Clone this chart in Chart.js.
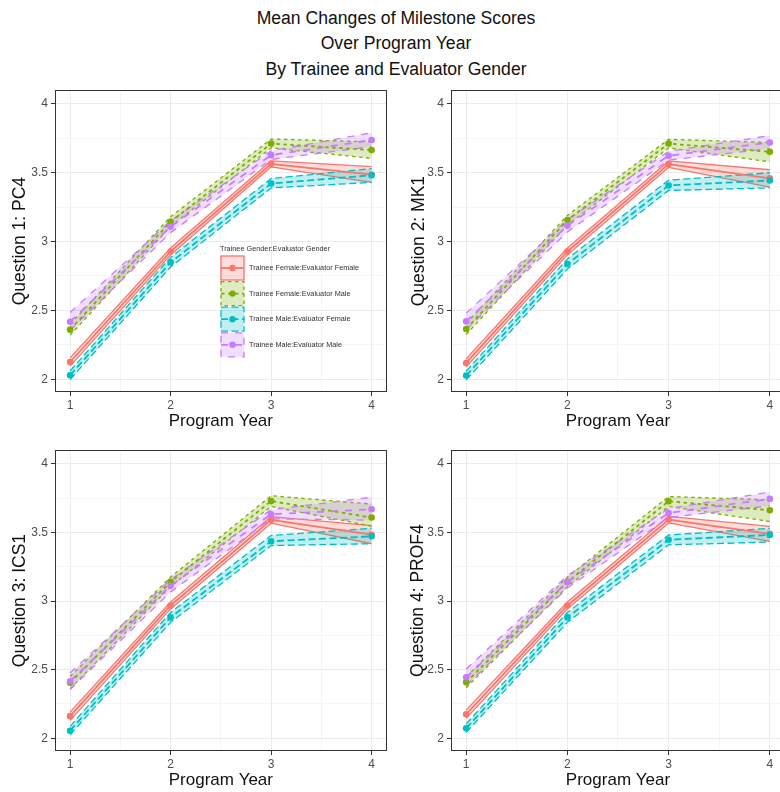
<!DOCTYPE html>
<html><head><meta charset="utf-8">
<script src="https://cdn.jsdelivr.net/npm/chart.js@4.4.1/dist/chart.umd.min.js"></script>
<style>
html,body{margin:0;padding:0;background:#fff;overflow:hidden;}
#page{position:relative;width:780px;height:792px;overflow:hidden;background:#fff;}
#title{position:absolute;left:0;top:5.5px;width:792px;text-align:center;font-family:"Liberation Sans",Arial,sans-serif;font-size:17.6px;line-height:25.5px;color:#111;}
canvas{position:absolute;}
</style></head><body>
<div id="page">
<div id="title">Mean Changes of Milestone Scores<br>Over Program Year<br>By Trainee and Evaluator Gender</div>
<canvas id="c1"></canvas><canvas id="c2"></canvas><canvas id="c3"></canvas><canvas id="c4"></canvas>
</div>
<script>
// ---------- DATA ----------
const years = [1, 2, 3, 4];
const xMajor = [1, 2, 3, 4];
const xMinor = [1.5, 2.5, 3.5];
const xTickLabels = ['1', '2', '3', '4'];
const yMajor = [2, 2.5, 3, 3.5, 4];
const yMinor = [2.25, 2.75, 3.25, 3.75];
const yTickLabels = ['2', '2.5', '3', '3.5', '4'];
const xAxisTitle = 'Program Year';
const panelTitles = ['Question 1: PC4', 'Question 2: MK1', 'Question 3: ICS1', 'Question 4: PROF4'];
const legendTitle = 'Trainee Gender:Evaluator Gender';
const groupNames = ['Trainee Female:Evaluator Female', 'Trainee Female:Evaluator Male',
                    'Trainee Male:Evaluator Female', 'Trainee Male:Evaluator Male'];

// order of rows: FF, FM, MF, MM
const q1Mean = [[2.125, 2.928, 3.565, 3.487], [2.360, 3.144, 3.712, 3.665], [2.029, 2.849, 3.422, 3.482], [2.418, 3.108, 3.628, 3.738]];
const q1Low  = [[2.095, 2.903, 3.543, 3.430], [2.320, 3.110, 3.680, 3.605], [1.998, 2.815, 3.390, 3.430], [2.355, 3.065, 3.597, 3.690]];
const q1High = [[2.155, 2.953, 3.587, 3.545], [2.400, 3.180, 3.745, 3.725], [2.060, 2.885, 3.458, 3.530], [2.485, 3.150, 3.660, 3.790]];

const q2Mean = [[2.118, 2.928, 3.563, 3.460], [2.365, 3.156, 3.712, 3.652], [2.026, 2.837, 3.408, 3.444], [2.420, 3.115, 3.624, 3.720]];
const q2Low  = [[2.090, 2.903, 3.540, 3.396], [2.325, 3.120, 3.680, 3.580], [1.995, 2.800, 3.372, 3.390], [2.360, 3.070, 3.592, 3.676]];
const q2High = [[2.148, 2.953, 3.586, 3.522], [2.405, 3.190, 3.743, 3.720], [2.058, 2.874, 3.446, 3.500], [2.480, 3.160, 3.656, 3.770]];

const q3Mean = [[2.161, 2.968, 3.592, 3.484], [2.405, 3.140, 3.729, 3.609], [2.055, 2.881, 3.436, 3.472], [2.415, 3.112, 3.633, 3.669]];
const q3Low  = [[2.130, 2.943, 3.568, 3.418], [2.360, 3.105, 3.690, 3.546], [2.025, 2.845, 3.405, 3.418], [2.355, 3.067, 3.600, 3.590]];
const q3High = [[2.190, 2.993, 3.616, 3.550], [2.450, 3.175, 3.768, 3.707], [2.087, 2.917, 3.478, 3.530], [2.475, 3.157, 3.666, 3.757]];

const q4Mean = [[2.175, 2.968, 3.594, 3.490], [2.408, 3.140, 3.728, 3.662], [2.072, 2.881, 3.447, 3.482], [2.444, 3.140, 3.642, 3.745]];
const q4Low  = [[2.145, 2.943, 3.570, 3.436], [2.368, 3.105, 3.690, 3.580], [2.042, 2.845, 3.410, 3.430], [2.385, 3.095, 3.610, 3.695]];
const q4High = [[2.205, 2.993, 3.618, 3.545], [2.448, 3.175, 3.762, 3.738], [2.104, 2.917, 3.482, 3.530], [2.505, 3.185, 3.675, 3.795]];

// ---------- STYLE / LAYOUT ----------
const FONT = '"Liberation Sans", Arial, sans-serif';
const colors = ['#F8766D', '#7CAE00', '#00BFC4', '#C77CFF'];
const fills = ['rgba(248,118,109,0.25)', 'rgba(124,174,0,0.25)', 'rgba(0,191,196,0.25)', 'rgba(199,124,255,0.25)'];
const dashes = [[], [3.5, 3.5], [7, 3.5], [7, 7]];
const X_MIN = 0.85, X_MAX = 4.15, Y_MIN = 1.907, Y_MAX = 4.1;
const TITLE_SIZE = 17, TITLE_LH = TITLE_SIZE * 1.2;
const YTITLE_SIZE = 17.5, YTITLE_LH = YTITLE_SIZE * 1.2;

const layouts = [
  {left: 0,   top: 80,  w: 390, h: 352, area: {l: 55,  t: 87,  r: 389, b: 392}, xTitleY: 421, yTitleX: 20},
  {left: 390, top: 80,  w: 400, h: 352, area: {l: 451, t: 87,  r: 785, b: 392}, xTitleY: 421, yTitleX: 419},
  {left: 0,   top: 440, w: 390, h: 352, area: {l: 55,  t: 447, r: 389, b: 751}, xTitleY: 780, yTitleX: 20},
  {left: 390, top: 440, w: 400, h: 352, area: {l: 451, t: 447, r: 785, b: 751}, xTitleY: 780, yTitleX: 418},
];
const legendBox = {x: 221, titleY: 169, firstTop: 176, step: 25.6, keyW: 23, keyH: 24, labelX: 249, size: 7.3};

const framePlugin = {
  id: 'frame',
  afterDraw(chart) {
    const {ctx, chartArea: a} = chart;
    ctx.save();
    ctx.strokeStyle = '#333333';
    ctx.lineWidth = 1;
    ctx.setLineDash([]);
    ctx.strokeRect(Math.round(a.left) + 0.5, Math.round(a.top) + 0.5, Math.round(a.right - a.left) - 1, Math.round(a.bottom - a.top) - 1);
    ctx.restore();
  }
};

const legendPlugin = {
  id: 'ggLegend',
  afterDraw(chart) {
    const ctx = chart.ctx, L = legendBox;
    ctx.save();
    ctx.fillStyle = '#333';
    ctx.font = L.size + 'px ' + FONT;
    ctx.textBaseline = 'middle';
    ctx.textAlign = 'left';
    ctx.fillText(legendTitle, L.x - 1, L.titleY);
    groupNames.forEach((name, s) => {
      const top = L.firstTop + s * L.step;
      const cy = top + L.keyH / 2, cx = L.x + L.keyW / 2;
      ctx.fillStyle = fills[s];
      ctx.fillRect(L.x, top, L.keyW, L.keyH);
      ctx.strokeStyle = colors[s];
      ctx.lineWidth = 1.3;
      ctx.setLineDash(dashes[s]);
      ctx.strokeRect(L.x, top, L.keyW, L.keyH);
      ctx.lineWidth = 1.8;
      ctx.beginPath(); ctx.moveTo(L.x, cy); ctx.lineTo(L.x + L.keyW, cy); ctx.stroke();
      ctx.setLineDash([]);
      ctx.fillStyle = colors[s];
      ctx.beginPath(); ctx.arc(cx, cy, 3.2, 0, Math.PI * 2); ctx.fill();
      ctx.fillStyle = '#333';
      ctx.fillText(name, L.labelX, cy);
    });
    ctx.restore();
  }
};

function pts(arr) { return years.map((x, i) => ({x: x, y: arr[i]})); }

function makeChart(id, idx, means, lows, highs, withLegend) {
  const L = layouts[idx];
  const cv = document.getElementById(id);
  cv.width = L.w; cv.height = L.h;
  cv.style.left = L.left + 'px'; cv.style.top = L.top + 'px';
  cv.style.width = L.w + 'px'; cv.style.height = L.h + 'px';
  const padTop = L.area.t - L.top;
  const padRight = L.left + L.w - L.area.r;
  const yW = L.area.l - L.left;
  const xH = L.top + L.h - L.area.b;
  const xTitlePadBottom = (L.top + L.h) - L.xTitleY - TITLE_LH / 2;
  const yTitlePadTop = (L.yTitleX - L.left) - YTITLE_LH / 2;

  const datasets = [];
  for (let s = 0; s < 4; s++) {
    datasets.push({data: pts(highs[s]), borderColor: colors[s], borderWidth: 1.3, borderDash: dashes[s],
      pointRadius: 0, fill: false, order: 10 - s});
    datasets.push({data: pts(lows[s]), borderColor: colors[s], borderWidth: 1.3, borderDash: dashes[s],
      pointRadius: 0, fill: '-1', backgroundColor: fills[s], order: 10 - s});
  }
  for (let s = 0; s < 4; s++) {
    datasets.push({data: pts(means[s]), borderColor: colors[s], borderWidth: 1.8, borderDash: dashes[s],
      pointRadius: 3.3, pointBackgroundColor: colors[s], pointBorderWidth: 0, pointHoverRadius: 3.3, fill: false, order: 5 - s});
  }
  const gridW = (major) => (c) => (c.tick && major.includes(c.tick.value)) ? 1 : 0.5;
  const tickC = (major) => (c) => (c.tick && major.includes(c.tick.value)) ? '#333333' : 'rgba(0,0,0,0)';

  return new Chart(cv, {
    type: 'line',
    data: {datasets},
    options: {
      responsive: false, animation: false, devicePixelRatio: 1, events: [],
      layout: {padding: {top: padTop, right: padRight, left: 0, bottom: 0}},
      elements: {line: {tension: 0, borderCapStyle: 'butt', borderJoinStyle: 'round'}},
      plugins: {legend: {display: false}, tooltip: {enabled: false}, title: {display: false}},
      scales: {
        x: {
          type: 'linear', min: X_MIN, max: X_MAX, bounds: 'data',
          afterBuildTicks: sc => { sc.ticks = xMajor.concat(xMinor).sort((a, b) => a - b).map(v => ({value: v})); },
          afterFit: sc => { sc.height = xH; },
          border: {display: false},
          grid: {color: '#EBEBEB', lineWidth: gridW(xMajor), drawTicks: true, tickLength: 4,
                 tickColor: tickC(xMajor), tickWidth: 1},
          ticks: {autoSkip: false, maxRotation: 0, padding: 2, color: '#4D4D4D', font: {family: FONT, size: 12},
                  callback: v => { const i = xMajor.indexOf(v); return i >= 0 ? xTickLabels[i] : ''; }},
          title: {display: true, text: xAxisTitle, color: '#111', font: {family: FONT, size: TITLE_SIZE},
                  padding: {top: 0, bottom: xTitlePadBottom}}
        },
        y: {
          type: 'linear', min: Y_MIN, max: Y_MAX, bounds: 'data',
          afterBuildTicks: sc => { sc.ticks = yMajor.concat(yMinor).sort((a, b) => a - b).map(v => ({value: v})); },
          afterFit: sc => { sc.width = yW; },
          border: {display: false},
          grid: {color: '#EBEBEB', lineWidth: gridW(yMajor), drawTicks: true, tickLength: 4,
                 tickColor: tickC(yMajor), tickWidth: 1},
          ticks: {autoSkip: false, padding: 3, color: '#4D4D4D', font: {family: FONT, size: 12},
                  callback: v => { const i = yMajor.indexOf(v); return i >= 0 ? yTickLabels[i] : ''; }},
          title: {display: true, text: panelTitles[idx], color: '#111', font: {family: FONT, size: YTITLE_SIZE},
                  padding: {top: yTitlePadTop, bottom: 0}}
        }
      }
    },
    plugins: withLegend ? [framePlugin, legendPlugin] : [framePlugin]
  });
}

makeChart('c1', 0, q1Mean, q1Low, q1High, true);
makeChart('c2', 1, q2Mean, q2Low, q2High, false);
makeChart('c3', 2, q3Mean, q3Low, q3High, false);
makeChart('c4', 3, q4Mean, q4Low, q4High, false);
</script>
</body></html>
